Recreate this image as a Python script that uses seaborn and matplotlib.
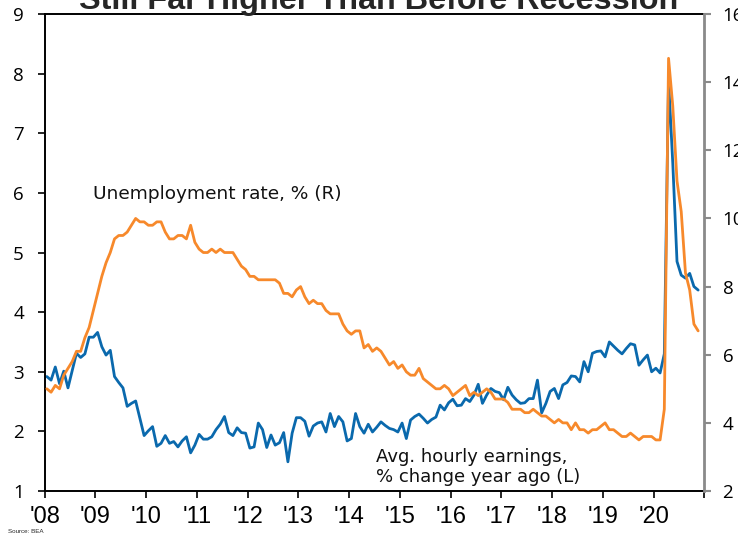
import numpy as np
import pandas as pd
import matplotlib
matplotlib.use("Agg")
import matplotlib.pyplot as plt
import seaborn as sns

# Monthly data, Jan 2008 - Nov 2020
earnings_yoy = [
    2.92, 2.86, 3.08, 2.80, 3.01, 2.73, 3.02, 3.31, 3.24, 3.30, 3.58, 3.58,
    3.66, 3.42, 3.28, 3.36, 2.92, 2.82, 2.73, 2.42, 2.47, 2.51, 2.22, 1.93,
    2.01, 2.08, 1.75, 1.80, 1.93, 1.80, 1.83, 1.74, 1.84, 1.91, 1.64, 1.77,
    1.95, 1.87, 1.87, 1.91, 2.03, 2.12, 2.25, 1.98, 1.93, 2.06, 1.98, 1.97,
    1.72, 1.74, 2.14, 2.03, 1.73, 1.94, 1.77, 1.81, 1.98, 1.49, 1.97, 2.23,
    2.23, 2.17, 1.92, 2.09, 2.14, 2.16, 1.99, 2.30, 2.08, 2.25, 2.16, 1.84,
    1.88, 2.30, 2.08, 1.97, 2.12, 1.99, 2.07, 2.16, 2.10, 2.05, 2.03, 1.99,
    2.14, 1.88, 2.19, 2.25, 2.29, 2.22, 2.14, 2.20, 2.24, 2.44, 2.36, 2.48,
    2.54, 2.43, 2.44, 2.55, 2.50, 2.61, 2.79, 2.47, 2.61, 2.72, 2.67, 2.65,
    2.53, 2.74, 2.61, 2.53, 2.47, 2.48, 2.55, 2.55, 2.86, 2.31, 2.47, 2.67,
    2.72, 2.55, 2.78, 2.82, 2.93, 2.92, 2.83, 3.17, 3.00, 3.31, 3.34, 3.35,
    3.25, 3.50, 3.43, 3.36, 3.30, 3.39, 3.47, 3.45, 3.11, 3.20, 3.28, 3.00,
    3.06, 2.98, 3.30, 7.89, 6.50, 4.85, 4.62, 4.57, 4.65, 4.43, 4.37,
]

unemployment_rate = [
    5.0, 4.9, 5.1, 5.0, 5.4, 5.6, 5.8, 6.1, 6.1, 6.5, 6.8, 7.3,
    7.8, 8.3, 8.7, 9.0, 9.4, 9.5, 9.5, 9.6, 9.8, 10.0, 9.9, 9.9,
    9.8, 9.8, 9.9, 9.9, 9.6, 9.4, 9.4, 9.5, 9.5, 9.4, 9.8, 9.3,
    9.1, 9.0, 9.0, 9.1, 9.0, 9.1, 9.0, 9.0, 9.0, 8.8, 8.6, 8.5,
    8.3, 8.3, 8.2, 8.2, 8.2, 8.2, 8.2, 8.1, 7.8, 7.8, 7.7, 7.9,
    8.0, 7.7, 7.5, 7.6, 7.5, 7.5, 7.3, 7.2, 7.2, 7.2, 6.9, 6.7,
    6.6, 6.7, 6.7, 6.2, 6.3, 6.1, 6.2, 6.1, 5.9, 5.7, 5.8, 5.6,
    5.7, 5.5, 5.4, 5.4, 5.6, 5.3, 5.2, 5.1, 5.0, 5.0, 5.1, 5.0,
    4.8, 4.9, 5.0, 5.1, 4.8, 4.9, 4.8, 4.9, 5.0, 4.9, 4.7, 4.7,
    4.7, 4.6, 4.4, 4.4, 4.4, 4.3, 4.3, 4.4, 4.3, 4.2, 4.2, 4.1,
    4.0, 4.1, 4.0, 4.0, 3.8, 4.0, 3.8, 3.8, 3.7, 3.8, 3.8, 3.9,
    4.0, 3.8, 3.8, 3.7, 3.6, 3.6, 3.7, 3.6, 3.5, 3.6, 3.6, 3.6,
    3.5, 3.5, 4.4, 14.7, 13.3, 11.1, 10.2, 8.4, 7.9, 6.9, 6.7,
]

year_labels = ["'08", "'09", "'10", "'11", "'12", "'13", "'14",
               "'15", "'16", "'17", "'18", "'19", "'20"]
left_ticks = [1, 2, 3, 4, 5, 6, 7, 8, 9]
right_ticks = [2, 4, 6, 8, 10, 12, 14, 16]

first_year = 2008
blue = "#0A69AD"
orange = "#F7892B"

sns.set_theme(style="white")
plt.rcParams["font.family"] = ["DejaVu Sans"]

n = len(earnings_yoy)
df = pd.DataFrame({
    "year": first_year + (np.arange(n) + 0.5) / 12.0,
    "earnings": earnings_yoy,
    "unemployment": unemployment_rate,
})

fig = plt.figure(figsize=(7.38, 5.35), dpi=100)
ax = fig.add_axes([0.0606, 0.0822, 0.8940, 0.8916])
ax2 = ax.twinx()

sns.lineplot(data=df, x="year", y="earnings", ax=ax, color=blue, linewidth=2.0)
sns.lineplot(data=df, x="year", y="unemployment", ax=ax2, color=orange, linewidth=2.0)

ax.set_xlim(first_year, first_year + len(year_labels))
ax.set_ylim(1, 9)
ax2.set_ylim(2, 16)
ax.set_xlabel("")
ax.set_ylabel("")
ax2.set_ylabel("")

# spines
for side in ["left", "bottom", "top"]:
    ax.spines[side].set_color("black")
    ax.spines[side].set_linewidth(1.4)
    ax.spines[side].set_visible(True)
ax.spines["right"].set_visible(False)
for side in ["left", "bottom", "top"]:
    ax2.spines[side].set_visible(False)
ax2.spines["right"].set_visible(True)
ax2.spines["right"].set_color("#8a8a8a")
ax2.spines["right"].set_linewidth(2.0)

tick_font = ["Open Sans", "DejaVu Sans"]
ax.set_xticks(range(first_year, first_year + len(year_labels) + 1))
ax.set_xticklabels(year_labels + [""], fontsize=17,
                   fontfamily=["Liberation Sans Narrow", "Liberation Sans"])
ax.set_yticks(left_ticks)
ax.set_yticklabels([str(v) for v in left_ticks], fontsize=13.5, fontfamily=tick_font)
ax2.set_yticks(right_ticks)
ax2.set_yticklabels([str(v) for v in right_ticks], fontsize=13.5, fontfamily=tick_font)

ax.tick_params(axis="x", bottom=True, direction="out", length=5, width=1.2,
               color="black", pad=6, labelcolor="black")
ax.tick_params(axis="y", left=True, direction="out", length=5, width=1.2,
               color="black", pad=10, labelcolor="black")
ax2.tick_params(axis="y", right=True, direction="out", length=5, width=1.5,
                color="#8a8a8a", pad=8, labelcolor="black")

# series labels
ax.text(2008.95, 5.98, "Unemployment rate, % (R)", fontsize=13.3,
        va="center", ha="left", color="#111111")
ax.text(2014.52, 1.40, "Avg. hourly earnings,\n% change year ago (L)",
        fontsize=13, va="center", ha="left", color="#111111", linespacing=1.1)

fig.text(0.5136, 1 - 9 / 535, "Still Far Higher Than Before Recession",
         fontsize=23.3, fontweight="bold", ha="center", va="baseline",
         fontfamily=["Liberation Sans", "DejaVu Sans"])
fig.text(8 / 738, 1 - 533 / 535, "Source: BEA", fontsize=4.5, ha="left",
         va="baseline", fontfamily=["Liberation Sans", "DejaVu Sans"])

fig.savefig("out.png", dpi=100)
